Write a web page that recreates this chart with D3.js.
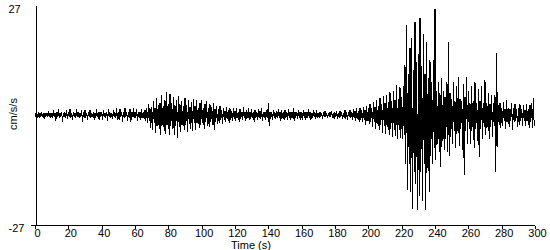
<!DOCTYPE html>
<meta charset="utf-8">
<head>
  <title>Seismogram</title>
</head>

<style>
body { margin: 0; background: #fff; }
svg { display: block; }
text { font-family: "Liberation Sans", Arial, sans-serif; font-size: 11px; fill: #000; }
.axis path, .axis line { stroke: #000; shape-rendering: crispEdges; }
.trace { fill: none; stroke: #000; stroke-width: 1; shape-rendering: crispEdges; }
</style>

<body>
  <svg width="550" height="250"></svg>

  <script src="https://cdnjs.cloudflare.com/ajax/libs/d3/7.8.5/d3.min.js"></script>
  <script>

// tick labels
    var xTicks = [0, 20, 40, 60, 80, 100, 120, 140, 160, 180, 200, 220, 240, 260, 280, 300];
    var yTicks = [-27, 27];

// peak values (cm/s/s), one up / one down per second, t = 0..299
    var peakHigh = [
        0.4, 0.6, 0.3, 0.5, 0.8, 0.4, 0.5, 0.3, 0.9, 0.5,
        0.5, 1.2, 0.4, 0.6, 1.4, 0.5, 0.7, 0.4, 0.6, 1.1,
        0.6, 1.4, 0.5, 0.7, 0.4, 1.5, 0.6, 0.5, 1.2, 0.6,
        1.2, 0.5, 0.7, 1.3, 0.4, 0.6, 0.5, 1.4, 0.6, 0.7,
        0.6, 1.3, 0.5, 0.7, 1.5, 0.6, 0.4, 1.2, 0.6, 1.6,
        0.7, 1.4, 0.6, 0.8, 1.7, 0.6, 0.7, 1.5, 0.6, 1.6,
        0.7, 1.5, 0.6, 0.8, 1.4, 0.7, 1.2, 1.8, 2.6, 1.6,
        2.0, 3.5, 1.8, 4.2, 2.5, 3.0, 4.8, 2.2, 3.6, 5.6,
        2.8, 5.2, 3.0, 4.5, 2.4, 3.8, 4.6, 2.6, 3.4, 2.2,
        4.2, 2.4, 3.8, 2.0, 3.2, 4.0, 2.2, 3.6, 1.8, 3.0,
        3.6, 1.8, 2.8, 3.4, 1.6, 2.6, 1.9, 3.0, 1.5, 2.2,
        1.4, 2.2, 1.2, 1.8, 1.0, 2.0, 1.2, 1.6, 0.9, 1.8,
        0.9, 1.6, 0.8, 1.4, 0.7, 1.9, 0.8, 1.2, 1.7, 0.8,
        1.5, 0.8, 1.2, 0.7, 1.4, 0.9, 1.6, 0.8, 0.7, 1.2,
        3.0, 0.8, 0.7, 1.3, 0.6, 0.9, 1.5, 0.7, 1.2, 0.6,
        1.2, 0.6, 1.4, 0.7, 0.6, 1.6, 0.7, 0.6, 1.3, 0.7,
        0.6, 1.3, 0.7, 0.6, 1.5, 0.7, 0.5, 1.1, 0.6, 1.2,
        0.5, 0.8, 0.4, 0.6, 0.9, 0.4, 0.5, 0.7, 1.0, 0.5,
        0.6, 0.9, 0.5, 1.0, 0.6, 0.5, 1.2, 0.6, 0.8, 1.3,
        0.8, 1.4, 0.9, 1.6, 1.0, 1.8, 1.1, 2.0, 1.3, 2.2,
        1.6, 2.8, 1.8, 3.2, 2.0, 3.6, 2.2, 4.2, 2.6, 4.6,
        3.0, 5.0, 3.2, 5.6, 3.4, 6.0, 3.8, 7.4, 4.0, 6.8,
        4.4, 7.0, 12.3, 22.0, 10.0, 16.5, 19.0, 11.0, 22.8, 13.0,
        15.0, 23.8, 12.0, 20.0, 10.0, 18.0, 9.0, 13.5, 8.0, 13.5,
        26.0, 6.0, 8.0, 5.5, 9.0, 6.0, 4.5, 8.0, 18.0, 5.5,
        4.0, 8.0, 3.5, 7.0, 9.3, 4.0, 3.5, 7.5, 4.5, 9.3,
        6.0, 3.0, 7.0, 3.5, 8.0, 3.0, 6.5, 3.5, 7.0, 3.0,
        8.6, 3.0, 5.4, 2.8, 5.0, 3.0, 4.8, 15.2, 2.5, 3.0,
        1.8, 3.2, 1.5, 3.7, 1.8, 1.4, 3.0, 1.6, 2.8, 1.4,
        1.6, 2.6, 1.4, 2.4, 1.3, 2.7, 1.5, 2.4, 3.0, 4.2
    ];

    var peakLow = [
        -0.4, -0.3, -0.6, -0.4, -0.5, -0.9, -0.3, -0.5, -0.4, -0.7,
        -0.6, -0.4, -1.4, -0.5, -0.7, -0.5, -1.6, -0.4, -0.6, -0.9,
        -0.5, -0.7, -1.2, -0.4, -0.6, -0.5, -0.8, -0.5, -1.8, -0.6,
        -0.6, -1.3, -0.5, -0.7, -0.4, -1.1, -0.6, -0.5, -1.2, -0.5,
        -1.2, -0.5, -0.6, -1.4, -0.5, -0.7, -1.0, -0.5, -0.6, -1.3,
        -1.3, -0.6, -1.6, -0.7, -0.5, -1.4, -0.7, -1.8, -0.6, -0.8,
        -0.8, -1.4, -0.6, -1.3, -0.7, -1.0, -1.5, -2.0, -1.4, -3.2,
        -3.8, -2.0, -4.4, -2.6, -3.4, -4.8, -2.4, -3.9, -4.6, -2.5,
        -4.8, -2.6, -3.5, -5.0, -2.8, -5.6, -3.0, -4.2, -2.4, -3.8,
        -2.4, -4.2, -2.2, -3.4, -4.0, -2.0, -3.6, -2.0, -3.2, -2.4,
        -2.0, -3.4, -1.8, -2.6, -3.0, -1.6, -2.4, -3.6, -1.6, -2.2,
        -2.0, -1.2, -2.2, -1.1, -1.6, -1.0, -1.9, -1.2, -1.5, -1.0,
        -1.4, -0.8, -1.7, -0.9, -1.3, -0.7, -1.5, -0.8, -1.2, -0.9,
        -0.8, -1.6, -0.7, -1.2, -0.8, -1.0, -1.5, -0.7, -1.1, -0.8,
        -2.6, -0.9, -1.2, -0.6, -1.0, -0.7, -0.6, -1.5, -0.7, -1.3,
        -0.7, -1.3, -0.6, -1.2, -0.7, -1.4, -0.6, -0.9, -0.7, -1.2,
        -1.1, -0.6, -1.2, -0.7, -0.6, -1.3, -0.6, -0.5, -0.9, -0.6,
        -0.6, -0.4, -0.9, -0.5, -0.4, -0.8, -0.5, -0.4, -0.7, -0.9,
        -0.5, -0.9, -0.6, -0.5, -1.0, -0.6, -0.9, -1.2, -0.6, -0.8,
        -1.2, -0.8, -1.5, -1.0, -1.7, -1.1, -1.8, -1.2, -2.4, -1.4,
        -2.2, -1.6, -3.0, -1.8, -3.4, -2.2, -3.8, -2.4, -4.4, -2.6,
        -4.6, -3.0, -5.0, -3.4, -5.4, -3.6, -5.2, -6.0, -3.8, -5.6,
        -6.0, -5.0, -12.0, -18.4, -12.0, -19.0, -23.0, -14.0, -17.0, -23.3,
        -20.0, -14.0, -21.0, -12.0, -23.3, -13.0, -19.0, -10.0, -12.0, -8.0,
        -11.0, -7.0, -9.0, -12.8, -6.5, -8.5, -6.0, -9.0, -10.0, -5.5,
        -7.0, -4.0, -8.0, -4.0, -7.5, -3.5, -8.5, -14.7, -4.0, -7.0,
        -3.5, -7.0, -3.0, -8.0, -3.5, -6.5, -10.3, -3.5, -6.0, -3.0,
        -5.0, -3.0, -6.0, -3.0, -5.4, -2.8, -14.0, -7.8, -2.5, -3.2,
        -2.8, -1.5, -3.4, -1.6, -3.0, -1.4, -3.7, -1.8, -1.4, -3.0,
        -2.4, -1.4, -2.6, -1.5, -2.8, -1.4, -3.2, -1.6, -3.2, -2.6
    ];

    var svg = d3.select('svg');

    var x = d3.scaleLinear().domain([0, 300]).range([35, 535]);
    var y = d3.scaleLinear().domain([-27, 27]).range([225, 5]);

// zigzag: up peak at t, down peak at t + 0.5
    var pts = [];
    peakHigh.forEach(function(h, i) {
        pts.push([i, h]);
        pts.push([i + 0.5, peakLow[i]]);
    });

    svg.append('path')
        .attr('class', 'trace')
        .attr('d', d3.line()
            .x(d => x(d[0]))
            .y(d => y(d[1]))(pts));

    // x axis
    var gx = svg.append('g')
        .attr('class', 'axis')
        .attr('transform', 'translate(0,225.5)')
        .call(d3.axisBottom(x)
            .tickValues(xTicks)
            .tickSizeInner(3)
            .tickSizeOuter(0)
            .tickPadding(1)
            .tickFormat(d => String(d)));
    gx.select('.domain').remove();
    gx.append('line')
        .attr('x1', x(0)).attr('x2', x(300))
        .attr('stroke', '#000');
    gx.selectAll('text')
        .attr('font-family', null).attr('font-size', null)
        .attr('dx', 2);

    // y axis
    var gy = svg.append('g')
        .attr('class', 'axis')
        .attr('transform', 'translate(35.5,0)')
        .call(d3.axisLeft(y)
            .tickValues(yTicks)
            .tickSizeInner(5)
            .tickSizeOuter(0)
            .tickFormat(d => String(d)));
    gy.selectAll('.tick line')
        .attr('x2', d => d > 0 ? 0 : -5);
    gy.selectAll('text')
        .attr('font-family', null).attr('font-size', null)
        .attr('text-anchor', 'start')
        .attr('x', -27)
        .attr('dy', d => d > 0 ? '0.65em' : '0.55em');

    // axis titles
    svg.append('text')
        .attr('x', 251)
        .attr('y', 249)
        .attr('text-anchor', 'middle')
        .text('Time (s)');

    svg.append('text')
        .attr('transform', 'translate(17,114) rotate(-90)')
        .attr('text-anchor', 'middle')
        .text('cm/s/s');

  </script>
</body>
</html>
